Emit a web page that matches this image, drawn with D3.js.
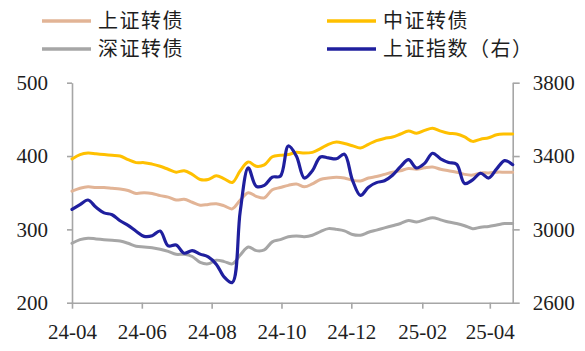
<!DOCTYPE html>
<html>
<head>
<meta charset="utf-8">
<script src="https://cdn.jsdelivr.net/npm/d3@7"></script>
<style>
  html, body { margin: 0; padding: 0; background: #fff; }
  svg { display: block; }
</style>
</head>
<body>
<div id="chart"></div>
<script>
// weekly closes
const dates = [
  '2024-04-26', '2024-05-03', '2024-05-10', '2024-05-17', '2024-05-24', '2024-05-31',
  '2024-06-07', '2024-06-14', '2024-06-21', '2024-06-28', '2024-07-05', '2024-07-12',
  '2024-07-19', '2024-07-26', '2024-08-02', '2024-08-09', '2024-08-16', '2024-08-23',
  '2024-08-30', '2024-09-06', '2024-09-13', '2024-09-20', '2024-09-27', '2024-10-04',
  '2024-10-11', '2024-10-18', '2024-10-25', '2024-11-01', '2024-11-08', '2024-11-15',
  '2024-11-22', '2024-11-29', '2024-12-06', '2024-12-13', '2024-12-20', '2024-12-27',
  '2025-01-03', '2025-01-10', '2025-01-17', '2025-01-24', '2025-01-31', '2025-02-07',
  '2025-02-14', '2025-02-21', '2025-02-28', '2025-03-07', '2025-03-14', '2025-03-21',
  '2025-03-28', '2025-04-04', '2025-04-11', '2025-04-18', '2025-04-25', '2025-05-02',
  '2025-05-09', '2025-05-16'
]

const shConv = [
  352, 356, 358, 357, 357, 356, 355, 353, 349, 350, 349, 346, 344, 340, 341, 337,
  333, 334, 335, 332, 328, 340, 350, 345, 343, 354, 357, 360, 362, 358, 362, 368,
  370, 371, 370, 367, 366, 370, 372, 375, 378, 380, 383, 382, 384, 385, 382, 380,
  378, 375, 374, 377, 377, 378, 378, 378
]

const csiConv = [
  396, 402, 404, 403, 402, 401, 400, 395, 391, 391, 389, 386, 382, 378, 380, 375,
  368, 368, 373, 369, 364, 380, 392, 386, 388, 399, 401, 402, 405, 404, 405, 410,
  416, 419, 417, 414, 411, 416, 421, 424, 426, 430, 434, 431, 435, 438, 434, 431,
  430, 426, 420, 423, 425, 429, 430, 430
]

const szConv = [
  281, 286, 288, 287, 286, 285, 284, 281, 277, 276, 275, 273, 270, 266, 266, 263,
  255, 253, 258, 256, 253, 265, 276, 271, 272, 283, 286, 290, 291, 290, 292, 297,
  301, 300, 298, 293, 292, 296, 299, 302, 305, 308, 312, 310, 313, 316, 313, 310,
  308, 305, 301, 303, 304, 306, 308, 308
]

const shIndex = [
  3109, 3135, 3160, 3120, 3090, 3080, 3047, 3022, 2990, 2962, 2965, 2991, 2910, 2915, 2870, 2884,
  2865, 2850, 2810, 2740, 2710, 3100, 3335, 3235, 3240, 3285, 3290, 3455, 3400, 3280, 3320, 3395,
  3390, 3385, 3410, 3269, 3185, 3230, 3255, 3265, 3295, 3342, 3380, 3335, 3360, 3415, 3385, 3365,
  3355, 3250, 3270, 3306, 3280, 3330, 3375, 3353
]

const leftTicks = [200, 300, 400, 500]
const rightTicks = [2600, 3000, 3400, 3800]

const series = [
  { id: 'sz', name: '深证转债', values: szConv, axis: 'left', color: '#A6A6A6' },
  { id: 'sh', name: '上证转债', values: shConv, axis: 'left', color: '#E2B496' },
  { id: 'csi', name: '中证转债', values: csiConv, axis: 'left', color: '#FFC000' },
  { id: 'idx', name: '上证指数（右）', values: shIndex, axis: 'right', color: '#1F1F9E' }
]

const legendOrder = ['sh', 'csi', 'sz', 'idx']

const width = 585
const height = 351
const margin = { top: 82.7, right: 72.3, bottom: 48.3, left: 72 }

const parse = d3.utcParse('%Y-%m-%d')
const days = dates.map(parse)

const svg = d3.select('#chart')
  .append('svg')
  .attr('width', width)
  .attr('height', height)
  .attr('viewBox', [0, 0, width, height].join(' '))

const x = d3.scaleUtc()
  .domain([days[0], days[days.length - 1]])
  .range([margin.left, width - margin.right])

const yLeft = d3.scaleLinear()
  .domain([200, 500])
  .range([height - margin.bottom, margin.top])

const yRight = d3.scaleLinear()
  .domain([2600, 3800])
  .range([height - margin.bottom, margin.top])

const axisColor = '#A6A6A6'
const textFont = '"Liberation Serif", "Times New Roman", serif'

const styleAxis = g => {
  g.select('.domain').attr('stroke', axisColor).attr('stroke-width', 1.6)
  g.selectAll('.tick line').attr('stroke', axisColor).attr('stroke-width', 1.6)
  g.selectAll('.tick text')
    .attr('fill', '#1e1e1e')
    .style('font-family', textFont)
    .style('font-size', '21px')
}

// X
const xTicks = d3.range(0, 7).map(i => d3.utcMonth.offset(days[0], i * 2))

svg.append('g')
  .attr('class', 'x')
  .attr('transform', `translate(0,${height - margin.bottom})`)
  .call(d3.axisBottom(x).tickValues(xTicks).tickFormat(d3.utcFormat('%y-%m')).tickSize(6).tickSizeOuter(0).tickPadding(15))
  .call(styleAxis)

// Y left
svg.append('g')
  .attr('class', 'y-left')
  .attr('transform', `translate(${margin.left},0)`)
  .call(d3.axisLeft(yLeft).tickValues(leftTicks).tickSize(5).tickSizeOuter(0).tickPadding(19))
  .call(styleAxis)

// Y right
svg.append('g')
  .attr('class', 'y-right')
  .attr('transform', `translate(${width - margin.right},0)`)
  .call(d3.axisRight(yRight).tickValues(rightTicks).tickFormat(d3.format('d')).tickSize(7).tickSizeOuter(0).tickPadding(13))
  .call(styleAxis)

// lines
const lines = svg.append('g')
  .attr('class', 'lines')
  .attr('fill', 'none')
  .attr('stroke-linejoin', 'round')
  .attr('stroke-linecap', 'round')

lines.selectAll('path')
  .data(series)
  .join('path')
  .attr('class', d => d.id)
  .attr('stroke', d => d.color)
  .attr('stroke-width', d => d.axis === 'right' ? 3.2 : 3)
  .attr('d', d => {
    const y = d.axis === 'right' ? yRight : yLeft
    return d3.line()
      .curve(d3.curveCatmullRom.alpha(0.5))
      .x((v, i) => x(days[i]))
      .y(v => y(v))(d.values)
  })

// legend
const legend = svg.append('g').attr('class', 'legend')
const legendCols = [42, 327]
const legendRows = [21, 49]

legend.selectAll('g')
  .data(legendOrder.map(id => series.find(s => s.id === id)))
  .join('g')
  .attr('transform', (d, i) => `translate(${legendCols[i % 2]},${legendRows[Math.floor(i / 2)]})`)
  .call(g => g.append('line')
    .attr('x1', 0)
    .attr('x2', 49)
    .attr('stroke', d => d.color)
    .attr('stroke-width', 3.5))
  .call(g => g.append('text')
    .attr('x', 56)
    .attr('dy', '0.36em')
    .attr('fill', '#1e1e1e')
    .style('font-family', '"Noto Sans CJK SC", sans-serif')
    .style('font-size', '20px')
    .style('letter-spacing', '1.5px')
    .text(d => d.name))
</script>
</body>
</html>
